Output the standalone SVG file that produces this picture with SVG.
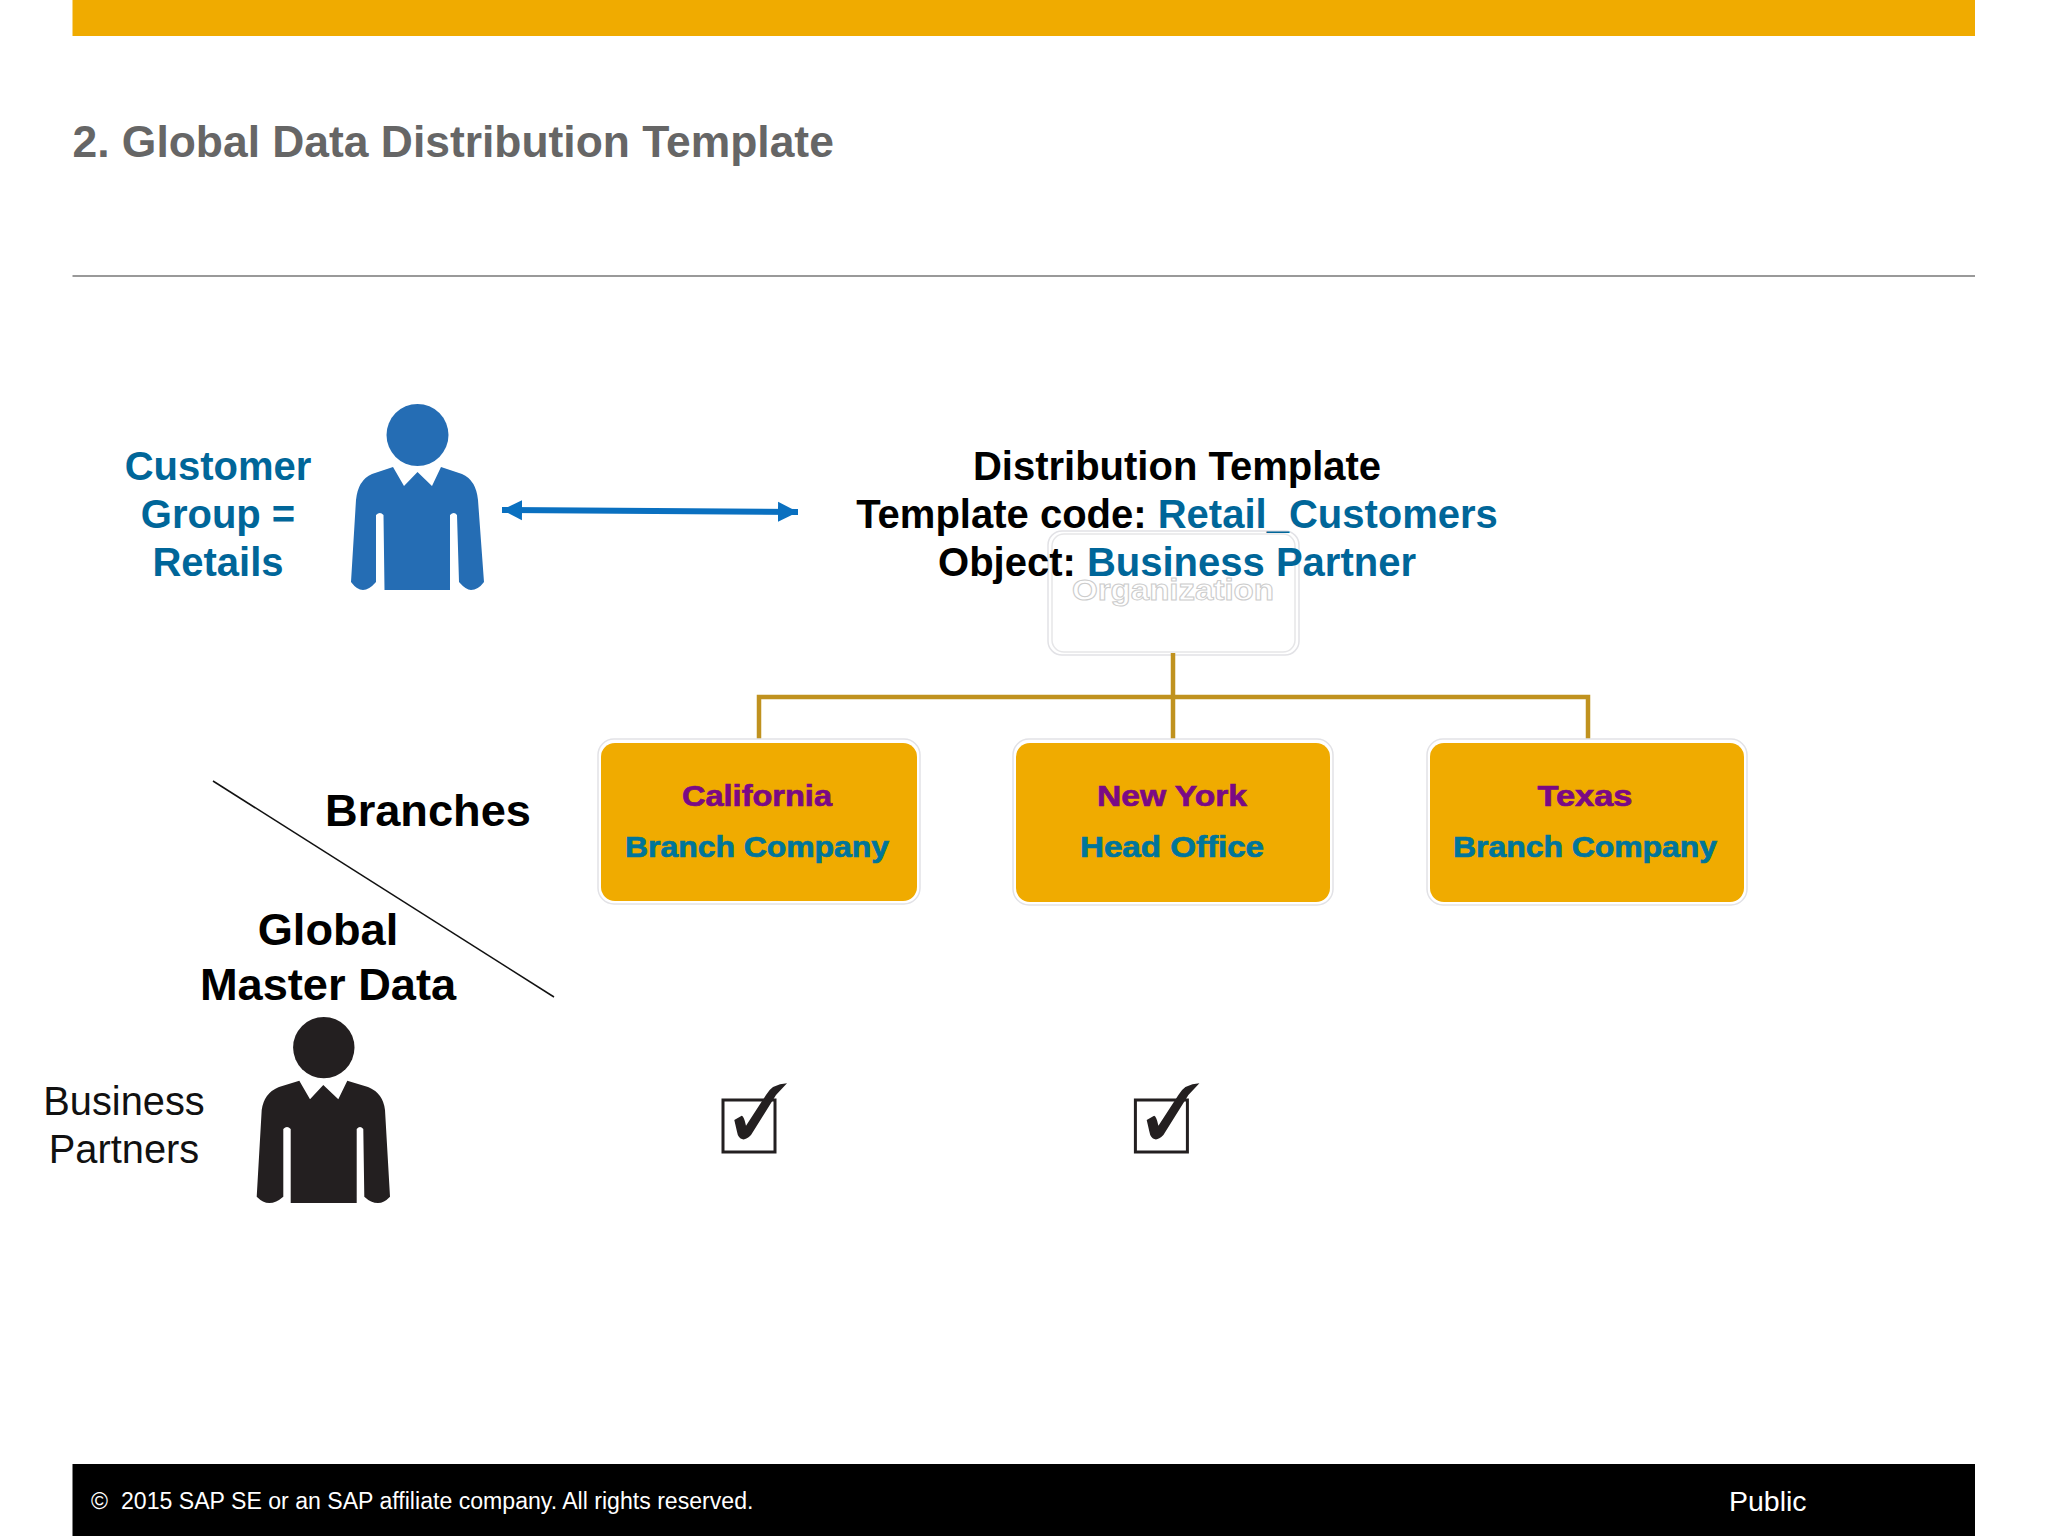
<svg xmlns="http://www.w3.org/2000/svg" width="2048" height="1536" viewBox="0 0 2048 1536">
<defs>
<style>
text{font-family:"Liberation Sans",Arial,sans-serif}
.b{font-weight:bold}
.m{text-anchor:middle}
.h{font-size:40px}
.big{font-size:45.2px;fill:#000}
.blue{fill:#006699}
.p{font-size:29px;fill:#7a0a85;stroke:#7a0a85;stroke-width:.7}
.t{font-size:29px;fill:#00759a;stroke:#00759a;stroke-width:.7}
.br{fill:#f0ab00}
.hl{fill:#fff;stroke:#e2e2e6;stroke-width:1.5}
.conn{fill:none;stroke:#c0921f;stroke-width:4.5}
.cb{fill:#fff;stroke:#231f20;stroke-width:3}
</style>
<path id="check" d="M734.3 1120L741.7 1115.7Q744 1116 746 1125.7L766 1095Q772 1084 787 1083.3L776 1095L751 1135Q746 1140 742.7 1139.3Q738 1138 737 1131.7Z" fill="#231f20"/>
<marker id="ah" markerUnits="userSpaceOnUse" markerWidth="22" markerHeight="22" refX="20" refY="11" orient="auto-start-reverse"><path d="M0 1L20 11L0 21Z" fill="#0a70c0"/></marker>
</defs>
<rect width="2048" height="1536" fill="#fff"/>
<g id="header">
<rect x="72.5" width="1902.5" height="36" fill="#f0ab00"/>
<text x="72.5" y="157" class="b" font-size="44.4" fill="#666">2. Global Data Distribution Template</text>
<line x1="72.5" y1="276" x2="1975" y2="276" stroke="#777" stroke-width="1.5"/>
</g>
<g id="customer-group">
<text class="b m h blue" x="218" y="479.5">Customer</text>
<text class="b m h blue" x="218" y="527.5">Group =</text>
<text class="b m h blue" x="218" y="575.5">Retails</text>
<ellipse cx="417.5" cy="435" rx="31" ry="31" fill="#256db4"/>
<path d="M393 467L404 486L417.5 472L432 486L441 467L462 474Q476 480 478 500L484 582Q478 590 471 590Q466 590 459 582L457 515Q454 511 450 515L450 590H384.5L383.5 515Q380 511 376 515L376 582Q369 590 363 590Q357 590 351 582L356 500Q358 480 372 474Z" fill="#256db4"/>
</g>
<g id="organization">
<rect x="1048" y="531" width="251" height="124" rx="14" class="hl"/>
<rect x="1052" y="534" width="243" height="118" rx="12" fill="#fff" stroke="#e6e6e8" stroke-width="1.5"/>
<text class="b m" x="1173" y="600" font-size="29" fill="#fff" stroke="#ccc" stroke-width="1" textLength="202" lengthAdjust="spacingAndGlyphs">Organization</text>
</g>
<g id="connectors">
<line x1="502" y1="510" x2="798" y2="512" stroke="#0a70c0" stroke-width="6" marker-start="url(#ah)" marker-end="url(#ah)"/>
<path class="conn" d="M1173 653V742M759 742V697H1588V742"/>
<line x1="213" y1="781" x2="554" y2="997" stroke="#111" stroke-width="1.5"/>
</g>
<g id="distribution-template">
<text class="b m h" x="1177" y="479.5" fill="#000">Distribution Template</text>
<text class="b m h" x="1177" y="527.5" fill="#000">Template code: <tspan class="blue">Retail_Customers</tspan></text>
<text class="b m h" x="1177" y="575.5" fill="#000">Object: <tspan class="blue">Business Partner</tspan></text>
</g>
<g id="california">
<rect x="598" y="739" width="322" height="165" rx="16" class="hl"/>
<rect x="601" y="743" width="316" height="158" rx="14" class="br"/>
<text class="b m p" x="757" y="806" textLength="150" lengthAdjust="spacingAndGlyphs">California</text>
<text class="b m t" x="757" y="857" textLength="264" lengthAdjust="spacingAndGlyphs">Branch Company</text>
</g>
<g id="new-york">
<rect x="1013" y="739" width="320" height="166" rx="16" class="hl"/>
<rect x="1016" y="743" width="314" height="159" rx="14" class="br"/>
<text class="b m p" x="1172" y="806" textLength="150" lengthAdjust="spacingAndGlyphs">New York</text>
<text class="b m t" x="1172" y="857" textLength="184" lengthAdjust="spacingAndGlyphs">Head Office</text>
</g>
<g id="texas">
<rect x="1427" y="739" width="320" height="166" rx="16" class="hl"/>
<rect x="1430" y="743" width="314" height="159" rx="14" class="br"/>
<text class="b m p" x="1585" y="806" textLength="95" lengthAdjust="spacingAndGlyphs">Texas</text>
<text class="b m t" x="1585" y="857" textLength="264" lengthAdjust="spacingAndGlyphs">Branch Company</text>
</g>
<g id="axis-labels">
<text class="b m big" x="428" y="826">Branches</text>
<text class="b m big" x="328" y="944.5">Global</text>
<text class="b m big" x="328" y="999.5">Master Data</text>
</g>
<g id="business-partners">
<text class="m" x="124" y="1114.5" font-size="39.8" fill="#111">Business</text>
<text class="m" x="124" y="1162.5" font-size="39.8" fill="#111">Partners</text>
<circle cx="323.8" cy="1047.6" r="30.7" fill="#231f20"/>
<path d="M299.3 1080.7L310 1099.3L323.3 1085L338.3 1099.3L347.3 1080.7L368 1087Q383 1093 385 1110L390 1196.7Q384 1203 378 1203Q371 1203 364.3 1196.7L363.3 1129Q360 1125 356.7 1129V1203H290.7V1129Q287 1125 283.3 1129V1196.7Q276 1203 269.3 1203Q263 1203 256.7 1196.7L261.7 1110Q264 1093 279 1087Z" fill="#231f20"/>
</g>
<g id="check-california">
<rect x="723" y="1100" width="52" height="52" class="cb"/>
<use href="#check"/>
</g>
<g id="check-new-york">
<rect x="1135.4" y="1100" width="52" height="52" class="cb"/>
<use href="#check" x="412.4"/>
</g>
<g id="footer">
<rect x="72.5" y="1464" width="1902.5" height="72" fill="#000"/>
<text x="91" y="1509" font-size="23" fill="#fff">©</text>
<text x="121" y="1509" font-size="23.1" fill="#fff">2015 SAP SE or an SAP affiliate company. All rights reserved.</text>
<text x="1729" y="1511" font-size="28.5" fill="#fff">Public</text>
</g>
</svg>
